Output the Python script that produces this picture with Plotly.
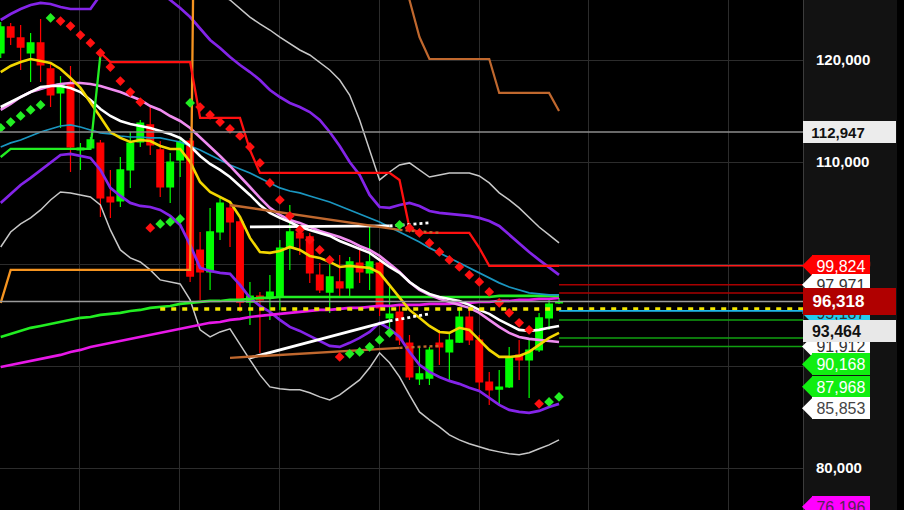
import plotly.graph_objects as go

# ---------------- data ----------------
idx = list(range(57))

opens = [120690, 123240, 122160, 120690, 121670, 119120, 116770, 117650, 111180, 111370,
         111860, 106570, 106180, 109220, 111960, 113630, 111180, 107550, 110200, 112060,
         101370, 99220, 103140, 105490, 104120, 96270, 96860, 96670, 96760, 101570,
         103040, 102650, 98920, 97250, 98240, 97650, 100100, 99120, 100100, 94710,
         95290, 92250, 88730, 88820, 92250, 91370, 92350, 94800, 92550, 88430,
         87740, 87940, 91080, 90590, 91570, 94710, 96180]
highs = [123730, 123630, 123430, 122650, 124020, 119800, 118430, 119410, 111860, 112450,
         112160, 109220, 110490, 112940, 114120, 115590, 112060, 110880, 112250, 112350,
         103140, 105490, 106570, 105980, 104510, 98240, 97250, 98920, 102350, 105780,
         103530, 103040, 100100, 100390, 100880, 100690, 101370, 103820, 100590, 97740,
         95980, 93040, 91860, 91860, 93530, 93240, 95780, 95490, 93040, 89410,
         89610, 91860, 92550, 92550, 95200, 96670, 96670]
lows = [120200, 121470, 119020, 117840, 117840, 115390, 113330, 109020, 109220, 111180,
        104610, 104510, 105590, 107450, 111470, 110690, 106570, 105980, 108530, 98240,
        96470, 97450, 102350, 101670, 95290, 94020, 91270, 94510, 95490, 99410,
        100880, 98140, 97160, 95200, 96760, 96670, 98140, 97450, 94900, 92840,
        92060, 88630, 88140, 88140, 90100, 88430, 92250, 92060, 87450, 86180,
        86180, 87840, 88630, 86860, 91370, 93530, 96080]
closes = [123240, 122250, 121270, 121670, 119510, 116570, 117650, 111470, 111370, 112160,
          106470, 106080, 109220, 111860, 113820, 111670, 107550, 110000, 111960, 98820,
          99220, 103140, 105980, 104120, 96270, 96860, 96470, 97250, 101570, 103140,
          102550, 99120, 97450, 98730, 97650, 100200, 99220, 100200, 95690, 95100,
          92550, 88920, 89220, 91570, 91860, 92550, 94800, 92550, 88430, 87650,
          87940, 90880, 90590, 91570, 94710, 96080, 96318]

band_outer_upper = [None] * 15 + [
    131760, 130780, 130000, 129310, 128620, 127840, 127060, 126370, 125880, 125000,
    124210, 123530, 122940, 122250, 121570, 120980, 120490, 119800, 119020, 118040,
    116570, 114120, 111180, 108240, 109020, 109710, 109910, 109220, 108530, 108730,
    108930, 108930, 108930, 108630, 107950, 106970, 106280, 105500, 104520, 103630,
    102850, 102070]
band_outer_lower = [101670, 103140, 103930, 104520, 105300, 106280, 107060, 106970, 106770, 106570,
                    105790, 103340, 101380, 100600, 100200, 99420, 98440, 98240, 98050, 96480,
                    93540, 92850, 93340, 93640, 92070, 90600, 89130, 87950, 87760, 87660,
                    87660, 87370, 86970, 86680, 87170, 87950, 88640, 89820, 91290, 90310,
                    88930, 87170, 85500, 84720, 84030, 83250, 82760, 82370, 82070, 81780,
                    81580, 81390, 81290, 81490, 81880, 82270, 82760]
band_upper = [123920, 124510, 125000, 125390, 125590, 125490, 125190, 125000, 125000, 125000,
              126370, 127060, 127640, 127840, 127840, 127350, 126660, 125880, 125100, 124210,
              123140, 121960, 121180, 120290, 119510, 118820, 118040, 117060, 116370, 115790,
              115390, 114900, 114120, 112940, 111570, 110000, 108730, 106770, 105590, 105500,
              105790, 105990, 105690, 105200, 105010, 104910, 104810, 104710, 104520, 104220,
              103730, 102850, 101970, 101180, 100400, 99620, 98930]
band_lower = [105990, 106870, 107750, 108440, 109220, 110000, 110690, 110790, 110590, 110400,
              109220, 107460, 106670, 105990, 105690, 105590, 105300, 104710, 103830, 101870,
              99620, 99320, 99130, 99030, 97950, 96680, 95890, 95300, 94520, 93830,
              93440, 92950, 92460, 91970, 91870, 92270, 92760, 93340, 94230, 93640,
              92850, 91380, 90110, 89420, 88930, 88540, 88250, 87860, 87560, 86880,
              86190, 85700, 85500, 85410, 85600, 85990, 86290]
ma_yellow = [118820, 119410, 119800, 120100, 119900, 119710, 119120, 118240, 117260, 115880,
             114410, 112940, 112360, 111960, 112160, 112060, 111570, 111280, 111280, 110000,
             108040, 107060, 106570, 106080, 104610, 102560, 101180, 101090, 101280, 101670,
             101380, 100790, 100600, 100200, 99710, 99810, 99710, 99620, 99130, 97950,
             96770, 95500, 94720, 93930, 93340, 93250, 93740, 93540, 92560, 91580,
             90890, 90890, 90990, 91380, 92070, 92760, 93250]
ma_white = [115390, 115880, 116370, 116860, 117350, 117450, 117450, 117260, 116860, 116080,
            115200, 114510, 114020, 113730, 113530, 113340, 113040, 112750, 112360, 111570,
            110590, 109810, 109220, 108530, 107650, 106770, 105790, 105010, 104520, 104120,
            103630, 103340, 103050, 102750, 102260, 101870, 101480, 101090, 100400, 99710,
            99130, 98240, 97560, 97070, 96770, 96580, 96380, 95990, 95500, 95110,
            94520, 94030, 93540, 93440, 93540, 93740, 93930]
ma_pink = [115100, 115690, 116370, 116860, 117160, 117450, 117650, 117750, 117750, 117650,
           117450, 117160, 116860, 116470, 116080, 115490, 115100, 114510, 114020, 113340,
           112450, 111570, 110590, 109610, 108530, 107550, 106480, 105500, 104810, 104320,
           104030, 103630, 103240, 102950, 102650, 102260, 101770, 101380, 100790, 100010,
           99220, 98240, 97460, 96970, 96580, 96280, 95990, 95700, 95210, 94520,
           93830, 93250, 92850, 92660, 92560, 92460, 92360]
ma_teal = [111470, 111870, 112160, 112550, 112940, 113240, 113530, 113630, 113430, 113140,
           112850, 112750, 112550, 112450, 112450, 112360, 112360, 112160, 111960, 111570,
           111180, 110690, 110200, 109710, 109320, 108930, 108440, 107950, 107460, 107160,
           106970, 106670, 106380, 106080, 105690, 105300, 104910, 104520, 104120, 103630,
           103140, 102650, 102160, 101580, 101090, 100600, 100110, 99620, 99130, 98640,
           98150, 97750, 97460, 97170, 97070, 96970, 96970]
ma_green = [92850, 93150, 93440, 93740, 93930, 94130, 94320, 94520, 94720, 94810,
            95010, 95110, 95210, 95400, 95500, 95700, 95790, 95890, 96090, 96190,
            96280, 96380, 96380, 96480, 96480, 96580, 96680, 96680] + [96770] * 22 + [96870] * 7
ma_magenta = [89910, 90110, 90310, 90500, 90700, 90890, 91090, 91380, 91580, 91870,
              92070, 92270, 92460, 92660, 92850, 93050, 93250, 93440, 93640, 93830,
              94030, 94230, 94320, 94520, 94620, 94810, 94910, 95010, 95110, 95210,
              95300, 95400, 95500, 95500, 95600, 95700, 95700, 95790, 95890, 95890,
              95990, 95990, 95990, 96090, 96090, 96090, 96190, 96190, 96280, 96280,
              96380, 96380, 96480, 96480, 96580, 96580, 96680]
stop_red = [None] * 10 + [120690] + [119800] * 9 + [114320] * 5 + [111180] + [108930] * 14 + \
           [108240, 103540] + [103050] * 6 + [101580] + [99824] * 8
stop_green = [110490] + [111280] * 9 + [120490] + [None] * 46
channel_orange = [96190] + [99420] * 19 + [190000] + [None] * 36
channel_brown = [None] * 39 + [133000, 130000, 125880, 122250] + [120100] * 7 + [116770] * 6 + [115000]

N = None
psar_red = [N, N, N, N, N, N, 123820, 123330, 122450, 121670,
            120690, 119310, 117940, 116860, 115880, 103540, N, N, N, N,
            115390, 114610, 113920, 113240, 112550, 111470, 109910, 107950, 106280, 104710,
            103340, 102360, 101380, 100400, 90890, N, N, N, N, N,
            N, 103540, 103050, 102070, 101180, 100400, 99710, 98930, 98240, 97260,
            96190, 95210, 94230, 93540, 86290, N, N]
psar_green = [113340, 113920, 114510, 115100, 115590, 124120, N, N, N, N,
              N, N, N, N, N, N, 103930, 104120, 104420, 115790,
              N, N, N, N, N, N, N, N, N, N,
              N, N, N, N, N, 91190, 91380, 91870, 92560, 93250,
              103830, N, N, N, N, N, N, N, N, N,
              N, N, N, N, N, 86480, 86970]

# drawn trend lines: (x list, y list)
trend_white_hi_x, trend_white_hi_y = [25, 39], [103640, 103730]
trend_white_hi_ext_x, trend_white_hi_ext_y = [39, 43], [103730, 104030]
trend_white_lo_x, trend_white_lo_y = [25, 39], [90800, 94420]
trend_white_lo_ext_x, trend_white_lo_ext_y = [39, 43], [94420, 95110]
trend_brown_hi_x, trend_brown_hi_y = [23, 40], [105790, 103340]
trend_brown_hi_ext_x, trend_brown_hi_ext_y = [40, 44], [103340, 103050]
trend_brown_lo_x, trend_brown_lo_y = [23, 40], [90800, 91780]
trend_brown_lo_ext_x, trend_brown_lo_ext_y = [40, 44], [91780, 91970]

# horizontal levels
full_levels = [112947, 96318]
dashed_level = 95600
dashed_level_start = 16
right_levels = [99824, 97971, 97150, 95400, 94510, 92740, 91912]
right_level_colors = ['#ff1a1a', '#a80000', '#a80000', '#20b8e8', '#10a010', '#10a010', '#10a010']

# price tags on the axis (pointer style)
tag_values = [99824, 97971, 95187, 91912, 90168, 87968, 85853, 76196]
tag_texts = ['99,824', '97,971', '95,187', '91,912', '90,168', '87,968', '85,853', '76,196']
tag_bg = ['#ff0000', '#ffffff', '#22ccee', '#ffffff', '#11ee11', '#11ee11', '#ffffff', '#ff00ff']
tag_fg = ['#ffffff', '#333333', '#333333', '#333333', '#ffffff', '#ffffff', '#444444', '#552255']
# price boxes (full width)
box_values = [96318, 93464, 112947]
box_texts = ['96,318', '93,464', '112,947']
box_bg = ['#b00000', '#e8e8e8', '#ececec']
box_fg = ['#ffffff', '#111111', '#111111']
box_h = [27, 22, 22]
box_fs = [17, 16, 15]

grid_x = [7.95, 17.98, 28.0, 38.04, 48.07, 59.0, 73.0]
x_range = [-0.07, 80.47]
y_range = [75882, 125882]

# ---------------- figure ----------------
fig = go.Figure()


def add_line(y, color, width, dash=None, x=None):
    fig.add_trace(go.Scatter(x=idx if x is None else x, y=y, mode='lines',
                             line=dict(color=color, width=width, dash=dash),
                             hoverinfo='skip', showlegend=False, connectgaps=False))


fig.add_trace(go.Candlestick(x=idx, open=opens, high=highs, low=lows, close=closes,
                             increasing=dict(line=dict(color='#00ff00', width=1.2), fillcolor='#00ff00'),
                             decreasing=dict(line=dict(color='#ff0000', width=1.2), fillcolor='#ff0000'),
                             whiskerwidth=0, showlegend=False, hoverinfo='skip'))

add_line(band_outer_upper, '#c8c8c8', 1.5)
add_line(band_outer_lower, '#c8c8c8', 1.5)
add_line(band_upper, '#8424e8', 2.7)
add_line(band_lower, '#8424e8', 2.7)
add_line(ma_magenta, '#e818e8', 2.6)
add_line(ma_green, '#22ee22', 2.6)
add_line(ma_teal, '#1a96c0', 1.7)
add_line(ma_pink, '#f08cf0', 2.6)
add_line(ma_white, '#ffffff', 2.6)
add_line(ma_yellow, '#f2d600', 2.6)
add_line(channel_orange, '#f59420', 2.3)
add_line(stop_green, '#22ee22', 2.3)
add_line(stop_red, '#ff1010', 2.3)
add_line(channel_brown, '#c0682e', 2.2)

add_line(trend_white_hi_y, '#ffffff', 2.8, x=trend_white_hi_x)
add_line(trend_white_hi_ext_y, '#ffffff', 2.8, dash='dot', x=trend_white_hi_ext_x)
add_line(trend_white_lo_y, '#ffffff', 2.8, x=trend_white_lo_x)
add_line(trend_white_lo_ext_y, '#ffffff', 2.8, dash='dot', x=trend_white_lo_ext_x)
add_line(trend_brown_hi_y, '#c0682e', 2.4, x=trend_brown_hi_x)
add_line(trend_brown_hi_ext_y, '#c0682e', 2.4, dash='dot', x=trend_brown_hi_ext_x)
add_line(trend_brown_lo_y, '#c0682e', 2.4, x=trend_brown_lo_x)
add_line(trend_brown_lo_ext_y, '#c0682e', 2.4, dash='dot', x=trend_brown_lo_ext_x)

fig.add_trace(go.Scatter(x=idx, y=psar_red, mode='markers',
                         marker=dict(symbol='diamond', size=7.5, color='#ff1010'),
                         hoverinfo='skip', showlegend=False))
fig.add_trace(go.Scatter(x=idx, y=psar_green, mode='markers',
                         marker=dict(symbol='diamond', size=7.5, color='#22ee22'),
                         hoverinfo='skip', showlegend=False))

shapes = []
# right axis panel
shapes.append(dict(type='rect', xref='paper', yref='paper', x0=1, x1=1 + 94 / 803, y0=0, y1=1,
                   fillcolor='#121212', line=dict(width=0), layer='below'))
for v, c in zip(full_levels, ['#8c8c8c', '#9a9a9a']):
    shapes.append(dict(type='line', xref='paper', yref='y', x0=0, x1=1, y0=v, y1=v,
                       line=dict(color=c, width=1.5), layer='above'))
shapes.append(dict(type='line', xref='x', yref='y', x0=dashed_level_start, x1=x_range[1],
                   y0=dashed_level, y1=dashed_level,
                   line=dict(color='#f2e600', width=3.5, dash='5px,6px'), layer='above'))
for v, c in zip(right_levels, right_level_colors):
    shapes.append(dict(type='line', xref='x', yref='y', x0=idx[-1], x1=x_range[1], y0=v, y1=v,
                       line=dict(color=c, width=1.6), layer='above'))
for v, c in zip(tag_values, tag_bg):
    shapes.append(dict(type='path', xref='paper', yref='y', xsizemode='pixel', ysizemode='pixel',
                       xanchor=1, yanchor=v, path='M -1 0 L 10 11 L 10 -11 Z',
                       fillcolor=c, line=dict(width=0), layer='above'))

annotations = []
font_family = 'Liberation Sans, Arial, sans-serif'
for v, t, bg, fg in zip(tag_values, tag_texts, tag_bg, tag_fg):
    annotations.append(dict(xref='paper', yref='y', x=1, y=v, xanchor='left', yanchor='middle',
                            xshift=9, width=58, height=22, bgcolor=bg, borderpad=0, borderwidth=0,
                            align='left', showarrow=False, text='&nbsp;' + t,
                            font=dict(family=font_family, size=16, color=fg)))
for v, t, bg, fg, h, fs in zip(box_values, box_texts, box_bg, box_fg, box_h, box_fs):
    annotations.append(dict(xref='paper', yref='y', x=1, y=v, xanchor='left', yanchor='middle',
                            xshift=0, width=93, height=h, bgcolor=bg, borderpad=0, borderwidth=0,
                            align='left', showarrow=False, text='&nbsp;&nbsp;' + t,
                            font=dict(family=font_family, size=fs, color=fg, weight='bold')))

fig.update_layout(
    width=904, height=510, autosize=False,
    margin=dict(l=0, r=101, t=0, b=0, pad=0),
    paper_bgcolor='#000000', plot_bgcolor='#000000',
    shapes=shapes, annotations=annotations,
    showlegend=False, hovermode=False,
    boxgap=0.18, boxgroupgap=0.18,
    xaxis=dict(range=x_range, tickvals=grid_x, showticklabels=False, showgrid=True,
               gridcolor='#2c2c2c', gridwidth=1, zeroline=False, showline=False,
               rangeslider=dict(visible=False), fixedrange=True),
    yaxis=dict(range=y_range, side='right', dtick=10000, tick0=0, tickformat=',d',
               showgrid=True, gridcolor='#2c2c2c', gridwidth=1, zeroline=False,
               showline=True, linecolor='#3c3c3c', linewidth=1, ticks='',
               ticklabelstandoff=9,
               tickfont=dict(family=font_family, size=15, color='#ffffff', weight='bold'),
               fixedrange=True),
)

fig.write_html('out.html', config={'displayModeBar': False},
               post_script="document.body.style.margin='0';document.body.style.background='#000';")
